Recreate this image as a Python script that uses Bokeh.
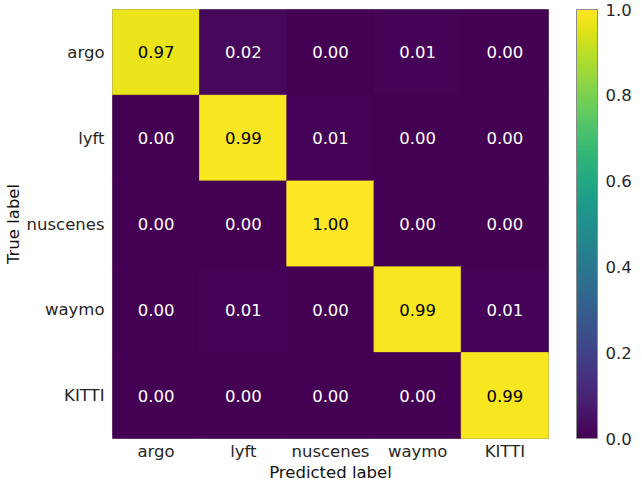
from bokeh.plotting import figure
from bokeh.models import ColumnDataSource, LinearColorMapper, ColorBar, FixedTicker, NumeralTickFormatter, FactorRange
from bokeh.palettes import Viridis256
from bokeh.embed import file_html
from bokeh.resources import INLINE

classes = ["argo", "lyft", "nuscenes", "waymo", "KITTI"]
row_argo = [0.97, 0.02, 0.00, 0.01, 0.00]
row_lyft = [0.00, 0.99, 0.01, 0.00, 0.00]
row_nuscenes = [0.00, 0.00, 1.00, 0.00, 0.00]
row_waymo = [0.00, 0.01, 0.00, 0.99, 0.01]
row_kitti = [0.00, 0.00, 0.00, 0.00, 0.99]
matrix = [row_argo, row_lyft, row_nuscenes, row_waymo, row_kitti]
cbar_ticks = [0.0, 0.2, 0.4, 0.6, 0.8, 1.0]

xs, ys, vals, labels, tcolors = [], [], [], [], []
for i, t in enumerate(classes):
    for j, p_ in enumerate(classes):
        v = matrix[i][j]
        xs.append(p_)
        ys.append(t)
        vals.append(v)
        labels.append(f"{v:.2f}")
        tcolors.append("black" if v > 0.5 else "white")

src = ColumnDataSource(dict(x=xs, y=ys, v=vals, label=labels, tc=tcolors))
mapper = LinearColorMapper(palette=Viridis256, low=0.0, high=1.0)

FONT = "DejaVu Sans"
FS = "16.5px"
TXT = "#262626"

p = figure(width=634, height=484, x_range=FactorRange(*classes),
           y_range=FactorRange(*reversed(classes)),
           output_backend="svg", toolbar_location=None,
           min_border_left=111, min_border_top=9, min_border_bottom=46, min_border_right=86)

p.rect(x="x", y="y", width=1, height=1, source=src,
       fill_color={"field": "v", "transform": mapper},
       line_color={"field": "v", "transform": mapper}, line_width=1)
p.text(x="x", y="y", text="label", source=src, text_color="tc",
       text_align="center", text_baseline="middle",
       text_font={"value": FONT}, text_font_size={"value": FS})

p.grid.visible = False
p.outline_line_color = "#8c8c8c"
p.outline_line_width = 1
p.x_range.range_padding = 0
p.y_range.range_padding = 0

for ax in (p.xaxis[0], p.yaxis[0]):
    ax.axis_line_color = None
    ax.major_tick_line_color = None
    ax.minor_tick_line_color = None
    ax.major_tick_out = 0
    ax.major_tick_in = 0
    ax.major_label_text_font = FONT
    ax.major_label_text_font_size = FS
    ax.major_label_text_color = TXT
    ax.axis_label_text_font = FONT
    ax.axis_label_text_font_size = FS
    ax.axis_label_text_font_style = "normal"
    ax.axis_label_text_color = "#111111"

p.xaxis.axis_label = "Predicted label"
p.yaxis.axis_label = "True label"
p.xaxis.major_label_standoff = 3
p.xaxis.axis_label_standoff = -1
p.yaxis.major_label_standoff = 8
p.yaxis.axis_label_standoff = 1

cb = ColorBar(color_mapper=mapper, ticker=FixedTicker(ticks=cbar_ticks),
              formatter=NumeralTickFormatter(format="0.0"),
              width=21, height="auto", padding=0, margin=0,
              location=(28, 0),
              major_tick_line_color=None, minor_tick_line_color=None,
              major_tick_out=0, major_tick_in=0,
              bar_line_color="#8c8c8c", border_line_color=None,
              background_fill_color=None,
              major_label_text_font=FONT, major_label_text_font_size=FS,
              major_label_text_color=TXT, label_standoff=8)
p.add_layout(cb, "right")

open("out.html", "w").write(file_html(p, INLINE))
